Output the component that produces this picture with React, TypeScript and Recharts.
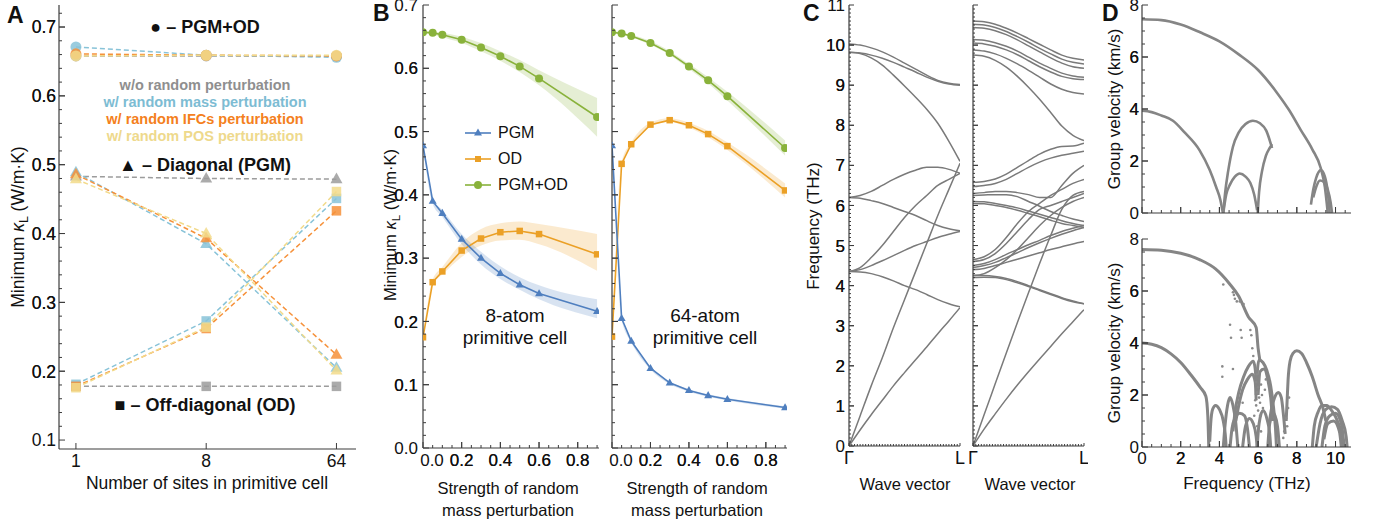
import React from "react";
import { ComposedChart, Line, Area, Scatter, XAxis, YAxis } from "recharts";

const FONT = '"Liberation Sans", Arial, Helvetica, sans-serif';
const AXIS = "#3c3c3c";

// ---------- Panel A: minimum kappa vs number of sites ----------
const siteLabels = ["1", "8", "64"];
const sitePos = [0, 1, 2];
const combNone = [0.658, 0.658, 0.658];
const combMass = [0.671, 0.659, 0.656];
const combIfc = [0.661, 0.659, 0.658];
const combPos = [0.658, 0.659, 0.659];
const diagNone = [0.483, 0.48, 0.479];
const diagMass = [0.489, 0.385, 0.205];
const diagIfc = [0.486, 0.393, 0.224];
const diagPos = [0.479, 0.4, 0.201];
const offNone = [0.178, 0.178, 0.178];
const offMass = [0.181, 0.273, 0.451];
const offIfc = [0.178, 0.262, 0.433];
const offPos = [0.176, 0.264, 0.461];

// ---------- Panel B: minimum kappa vs mass perturbation ----------
const strength = [0, 0.05, 0.1, 0.2, 0.3, 0.4, 0.5, 0.6, 0.9];
const pgm8 = [0.478, 0.39, 0.371, 0.33, 0.3, 0.276, 0.258, 0.244, 0.216];
const pgm8Lo = [0.477, 0.386, 0.365, 0.322, 0.29, 0.267, 0.25, 0.235, 0.205];
const pgm8Hi = [0.479, 0.393, 0.376, 0.338, 0.31, 0.287, 0.27, 0.257, 0.235];
const od8 = [0.175, 0.262, 0.279, 0.312, 0.331, 0.341, 0.343, 0.338, 0.306];
const od8Lo = [0.174, 0.258, 0.274, 0.302, 0.32, 0.328, 0.329, 0.322, 0.28];
const od8Hi = [0.176, 0.266, 0.286, 0.324, 0.346, 0.355, 0.358, 0.354, 0.338];
const both8 = [0.657, 0.656, 0.653, 0.645, 0.633, 0.619, 0.603, 0.584, 0.523];
const both8Lo = [0.655, 0.653, 0.649, 0.64, 0.627, 0.612, 0.594, 0.573, 0.492];
const both8Hi = [0.659, 0.658, 0.656, 0.65, 0.64, 0.627, 0.613, 0.597, 0.553];

const pgm64 = [0.478, 0.205, 0.169, 0.126, 0.103, 0.091, 0.083, 0.077, 0.064];
const pgm64Lo = [0.477, 0.203, 0.167, 0.124, 0.101, 0.089, 0.081, 0.075, 0.062];
const pgm64Hi = [0.479, 0.207, 0.171, 0.128, 0.105, 0.093, 0.085, 0.079, 0.066];
const od64 = [0.176, 0.449, 0.48, 0.511, 0.518, 0.51, 0.496, 0.477, 0.407];
const od64Lo = [0.175, 0.446, 0.477, 0.508, 0.515, 0.506, 0.491, 0.471, 0.396];
const od64Hi = [0.177, 0.452, 0.483, 0.514, 0.521, 0.514, 0.501, 0.483, 0.418];
const both64 = [0.657, 0.655, 0.651, 0.64, 0.624, 0.603, 0.581, 0.556, 0.474];
const both64Lo = [0.655, 0.653, 0.649, 0.637, 0.621, 0.599, 0.576, 0.549, 0.462];
const both64Hi = [0.659, 0.657, 0.653, 0.643, 0.627, 0.607, 0.586, 0.563, 0.486];

// ---------- Panel C: dispersion Γ -> L ----------
const kPath = [0, 0.1, 0.2, 0.3, 0.4, 0.5, 0.6, 0.7, 0.8, 0.9, 1];
const bands8 = [
  [0, 0.4, 0.78, 1.14, 1.5, 1.83, 2.15, 2.47, 2.8, 3.12, 3.45],
  [0, 0.75, 1.5, 2.2, 2.95, 3.65, 4.35, 5.05, 5.75, 6.4, 7.05],
  [4.35, 4.34, 4.3, 4.22, 4.12, 4.0, 3.9, 3.78, 3.65, 3.55, 3.47],
  [4.35, 4.4, 4.5, 4.62, 4.75, 4.88, 5.0, 5.1, 5.2, 5.28, 5.35],
  [4.35, 4.45, 4.7, 5.0, 5.35, 5.7, 6.0, 6.25, 6.5, 6.65, 6.8],
  [6.2, 6.25, 6.35, 6.5, 6.65, 6.78, 6.88, 6.95, 6.95, 6.9, 6.8],
  [6.2, 6.18, 6.12, 6.05, 5.95, 5.85, 5.75, 5.62, 5.5, 5.42, 5.37],
  [9.82, 9.79, 9.68, 9.5, 9.25, 8.98, 8.7, 8.4, 8.05, 7.6, 7.1],
  [10.03, 10.0, 9.93, 9.83, 9.7, 9.55, 9.4, 9.25, 9.12, 9.05, 9.02],
  [9.82, 9.8, 9.75, 9.67, 9.57, 9.45, 9.33, 9.2, 9.1, 9.03, 9.0],
];
const bands64 = [
  [0, 0.42, 0.8, 1.17, 1.52, 1.85, 2.17, 2.48, 2.8, 3.1, 3.4],
  [0, 0.78, 1.55, 2.32, 3.08, 3.82, 4.55, 5.25, 5.9, 6.25, 6.35],
  [4.25, 4.25, 4.23, 4.18, 4.1, 4.0, 3.9, 3.8, 3.7, 3.62, 3.55],
  [4.2, 4.21, 4.2, 4.15, 4.07, 3.98, 3.88, 3.78, 3.68, 3.6, 3.55],
  [4.65, 4.72, 4.9, 5.2, 5.55, 5.85, 6.05, 6.25, 6.4, 6.55, 6.65],
  [4.6, 4.65, 4.8, 5.05, 5.35, 5.65, 5.9, 6.0, 6.1, 6.2, 6.3],
  [4.5, 4.55, 4.65, 4.78, 4.9, 5.02, 5.13, 5.25, 5.35, 5.43, 5.5],
  [4.45, 4.5, 4.58, 4.7, 4.82, 4.95, 5.07, 5.18, 5.28, 5.37, 5.45],
  [4.4, 4.43, 4.5, 4.58, 4.66, 4.74, 4.82, 4.9, 4.97, 5.04, 5.1],
  [4.25, 4.3, 4.45, 4.65, 4.9, 5.2, 5.5, 5.75, 5.95, 6.1, 6.2],
  [6.58, 6.6, 6.66, 6.78, 6.95, 7.12, 7.28, 7.4, 7.47, 7.48, 7.55],
  [6.47, 6.5, 6.55, 6.65, 6.8, 6.95, 7.08, 7.18, 7.25, 7.3, 7.35],
  [6.3, 6.32, 6.35, 6.35, 6.32, 6.27, 6.2, 6.2, 6.5, 6.8, 7.0],
  [6.25, 6.26, 6.27, 6.27, 6.22, 6.1, 5.98, 5.85, 5.75, 5.66, 5.6],
  [6.1, 6.09, 6.05, 6.0, 5.94, 5.86, 5.78, 5.7, 5.62, 5.55, 5.5],
  [6.05, 6.04, 6.0, 5.95, 5.88, 5.8, 5.72, 5.63, 5.55, 5.5, 5.45],
  [10.6, 10.58, 10.52, 10.42, 10.3, 10.16, 10.02, 9.88, 9.75, 9.67, 9.63],
  [10.52, 10.5, 10.44, 10.34, 10.21, 10.07, 9.92, 9.78, 9.65, 9.57, 9.53],
  [10.44, 10.42, 10.36, 10.26, 10.13, 9.98, 9.83, 9.68, 9.55, 9.46, 9.42],
  [10.14, 10.12, 10.06, 9.97, 9.85, 9.7, 9.55, 9.42, 9.3, 9.23, 9.2],
  [10.05, 10.03, 9.97, 9.88, 9.76, 9.61, 9.46, 9.33, 9.22, 9.16, 9.14],
  [9.88, 9.85, 9.78, 9.67, 9.53, 9.37, 9.2, 9.03, 8.9, 8.82, 8.78],
  [9.75, 9.72, 9.62, 9.45, 9.22, 8.95, 8.65, 8.32, 7.98, 7.75, 7.62],
];

// ---------- Panel D: group velocity vs frequency ----------
type Curve = { f: number[]; v: number[] };
const velTop: Curve[] = [
  { f: [0, 1, 2, 3, 4, 5, 6, 7, 7.6, 8.2, 8.8, 9.24, 9.45, 9.6], v: [7.45, 7.42, 7.25, 6.95, 6.6, 6.1, 5.5, 4.6, 3.96, 3.2, 2.45, 1.72, 1.0, 0] },
  { f: [0, 0.5, 1, 1.6, 2.2, 2.97, 3.5, 3.83, 4.05, 4.18], v: [3.93, 3.88, 3.75, 3.55, 3.1, 2.42, 1.65, 1.0, 0.5, 0] },
  { f: [4.2, 4.35, 4.55, 4.8, 5.05, 5.35, 5.6, 5.8, 5.95], v: [0, 0.7, 1.1, 1.4, 1.52, 1.4, 1.15, 0.7, 0.1] },
  { f: [4.2, 4.3, 4.45, 4.7, 5.0, 5.35, 5.73, 6.1, 6.42, 6.72], v: [0, 0.8, 1.6, 2.55, 3.1, 3.42, 3.55, 3.45, 3.17, 2.5] },
  { f: [5.98, 6.05, 6.2, 6.4, 6.6, 6.72], v: [0, 0.8, 1.6, 2.2, 2.5, 2.65] },
  { f: [8.73, 8.85, 9.0, 9.24, 9.45, 9.6, 9.7], v: [0.32, 0.9, 1.35, 1.65, 1.4, 0.8, 0] },
  { f: [8.85, 9.0, 9.2, 9.4, 9.6, 9.75, 9.82], v: [0.6, 1.0, 1.25, 1.2, 0.9, 0.4, 0] },
];
const velBottom: Curve[] = [
  { f: [0, 1, 2, 3, 3.8, 4.5, 5.0, 5.5, 5.9, 6.0, 6.1], v: [7.6, 7.57, 7.45, 7.2, 6.85, 6.3, 5.8, 5.0, 4.6, 3.8, 3.3] },
  { f: [0, 0.5, 1, 1.5, 2, 2.5, 3, 3.3, 3.4, 3.45], v: [4.0, 3.95, 3.82, 3.58, 3.25, 2.8, 2.3, 1.95, 1.2, 0] },
  { f: [3.5, 3.55, 3.65, 3.8, 4.0, 4.2, 4.3, 4.35], v: [0.2, 0.9, 1.45, 1.6, 1.45, 1.0, 0.5, 0] },
  { f: [4.2, 4.3, 4.42, 4.55, 4.7, 4.85, 4.95], v: [0, 0.9, 1.6, 1.9, 1.6, 0.9, 0] },
  { f: [4.55, 4.65, 4.8, 5.05, 5.3, 5.45, 5.55], v: [0, 0.7, 1.1, 1.3, 1.2, 0.7, 0] },
  { f: [4.7, 4.8, 5.0, 5.25, 5.5, 5.75, 5.85, 5.92], v: [0.6, 1.3, 2.1, 2.7, 3.1, 3.3, 3.0, 2.2] },
  { f: [4.85, 5.0, 5.2, 5.45, 5.7, 5.85, 5.9], v: [1.0, 1.6, 2.2, 2.6, 2.8, 2.5, 1.8] },
  { f: [5.9, 5.97, 6.05, 6.25, 6.45, 6.65, 6.8, 6.9, 6.95], v: [2.0, 3.0, 3.35, 3.25, 2.95, 2.35, 1.5, 0.7, 0] },
  { f: [6.0, 6.1, 6.3, 6.5, 6.65, 6.75], v: [2.0, 2.9, 3.0, 2.6, 1.9, 1.0] },
  { f: [6.55, 6.7, 6.85, 7.05, 7.2, 7.3, 7.4], v: [0.8, 1.5, 1.9, 2.1, 1.9, 1.3, 0.5] },
  { f: [5.2, 5.35, 5.55, 5.75, 5.9, 5.95], v: [0, 0.8, 1.1, 0.9, 0.4, 0] },
  { f: [5.95, 6.05, 6.25, 6.45, 6.6, 6.65], v: [0, 0.9, 1.4, 1.1, 0.5, 0] },
  { f: [6.5, 6.6, 6.8, 7.0, 7.1], v: [0, 0.9, 1.3, 0.8, 0] },
  { f: [7.45, 7.5, 7.55, 7.65, 7.8, 8.0, 8.25, 8.5, 8.8, 9.1, 9.35, 9.5], v: [1.0, 1.8, 2.6, 3.3, 3.6, 3.7, 3.6, 3.25, 2.7, 2.0, 1.5, 1.0] },
  { f: [8.8, 8.9, 9.1, 9.3, 9.55, 9.8, 10.1, 10.3, 10.35], v: [0, 0.8, 1.35, 1.6, 1.6, 1.4, 1.0, 0.5, 0] },
  { f: [9.0, 9.2, 9.5, 9.8, 10.1, 10.35, 10.55, 10.6], v: [0, 0.9, 1.45, 1.55, 1.45, 1.0, 0.4, 0] },
  { f: [9.3, 9.45, 9.7, 10.0, 10.3, 10.45], v: [0, 0.8, 1.2, 1.3, 0.9, 0] },
  { f: [9.4, 9.6, 9.9, 10.2, 10.3], v: [0.3, 0.9, 1.0, 0.6, 0] },
];
const dotF = [4.2, 4.7, 4.75, 4.8, 4.9, 5.05, 5.25, 4.55, 4.6, 5.1, 5.15, 4.15, 4.15, 4.7, 5.6, 5.65, 5.7, 5.75, 5.9, 5.95, 5.9, 6.0, 5.95, 6.05, 6.1, 5.85, 5.9, 6.15, 6.2, 6.0, 6.1, 5.8, 7.6, 7.55, 7.45, 7.5, 7.35, 7.3, 5.2, 6.4, 6.35, 6.25, 6.15, 5.95];
const dotV = [6.25, 5.95, 5.85, 5.7, 5.6, 5.6, 5.5, 4.7, 4.2, 4.5, 4.2, 3.1, 2.7, 3.0, 4.5, 4.3, 3.8, 3.5, 3.0, 2.8, 2.5, 2.3, 2.1, 1.9, 1.7, 1.8, 1.6, 2.4, 2.0, 1.4, 1.2, 1.2, 1.9, 1.5, 1.1, 0.8, 0.6, 0.35, 1.7, 2.6, 2.2, 1.5, 0.6, 0.8];

// ---------- helpers ----------
function range(a: number, b: number, step: number) {
  const out: number[] = [];
  for (let v = a; v <= b + 1e-9; v += step) out.push(Math.round(v * 1e6) / 1e6);
  return out;
}

type Box = { left: number; top: number; width: number; height: number; x0: number; x1: number; y0: number; y1: number };
type AxisSpec = {
  dataKey?: string;
  domain: [number, number];
  majors: number[];
  minors?: number[];
  fmt?: (v: number) => string;
  size?: number;
  majorLen?: number;
  minorLen?: number;
  gap?: number;
  firstShift?: number;
};
type Side = "left" | "right" | "top" | "bottom";

function makeTick(side: Side, spec: AxisSpec, labels: boolean) {
  const { majors, fmt, size = 16, majorLen = 6, minorLen = 3, gap = 4, firstShift = 0, domain } = spec;
  return (props: any) => {
    const x = Number(props.x);
    const y = Number(props.y);
    const v = Number(props.payload?.value);
    const isMajor = majors.some((m) => Math.abs(m - v) < 1e-6);
    const len = isMajor ? majorLen : minorLen;
    const label = labels && isMajor && fmt ? fmt(v) : "";
    const shift = Math.abs(v - domain[0]) < 1e-6 ? firstShift : 0;
    let x2 = x;
    let y2 = y;
    if (side === "left") x2 = x + len;
    if (side === "right") x2 = x - len;
    if (side === "top") y2 = y + len;
    if (side === "bottom") y2 = y - len;
    return (
      <g>
        <line x1={x} y1={y} x2={x2} y2={y2} stroke={AXIS} strokeWidth={1} />
        {label && side === "left" && (
          <text x={x - gap} y={y} dy="0.36em" textAnchor="end" fontSize={size} fontFamily={FONT} fill="#111">
            {label}
          </text>
        )}
        {label && side === "bottom" && (
          <text x={x + shift} y={y + gap} dy="0.72em" textAnchor="middle" fontSize={size} fontFamily={FONT} fill="#111">
            {label}
          </text>
        )}
      </g>
    );
  };
}

function chartSize(b: Box) {
  return {
    width: b.width,
    height: b.height,
    margin: { top: b.y0 - b.top, right: b.left + b.width - b.x1, left: 0, bottom: 0 },
  };
}

function frameAxes(b: Box, xs: AxisSpec, ys: AxisSpec, xLabels = true, yLabels = true) {
  const xt = [...xs.majors, ...(xs.minors ?? [])].sort((p, q) => p - q);
  const yt = [...ys.majors, ...(ys.minors ?? [])].sort((p, q) => p - q);
  const axisLine = { stroke: AXIS, strokeWidth: 1.2 };
  return [
    <XAxis key="xb" xAxisId={0} dataKey={xs.dataKey} type="number" domain={xs.domain} ticks={xt} interval={0}
      height={b.top + b.height - b.y1} tick={makeTick("bottom", xs, xLabels)} tickLine={false} tickSize={0} tickMargin={0}
      axisLine={axisLine} allowDataOverflow />,
    <XAxis key="xt" xAxisId="top" orientation="top" type="number" domain={xs.domain} ticks={xt} interval={0}
      height={0} tick={makeTick("top", xs, false)} tickLine={false} tickSize={0} tickMargin={0}
      axisLine={axisLine} allowDataOverflow />,
    <YAxis key="yl" yAxisId={0} dataKey={ys.dataKey} type="number" domain={ys.domain} ticks={yt} interval={0}
      width={b.x0 - b.left} tick={makeTick("left", ys, yLabels)} tickLine={false} tickSize={0} tickMargin={0}
      axisLine={axisLine} allowDataOverflow />,
    <YAxis key="yr" yAxisId="right" orientation="right" type="number" domain={ys.domain} ticks={yt} interval={0}
      width={0} tick={makeTick("right", ys, false)} tickLine={false} tickSize={0} tickMargin={0}
      axisLine={axisLine} allowDataOverflow />,
  ];
}

function marker(shape: "circle" | "tri" | "sq", color: string, size: number, opacity = 1) {
  return (p: any) => {
    const { cx, cy, index } = p;
    const k = `m${index}`;
    if (cx == null || cy == null) return <g key={k} />;
    if (shape === "circle") return <circle key={k} cx={cx} cy={cy} r={size / 2} fill={color} fillOpacity={opacity} />;
    if (shape === "sq")
      return <rect key={k} x={cx - size / 2} y={cy - size / 2} width={size} height={size} fill={color} fillOpacity={opacity} />;
    const h = size * 0.88;
    return (
      <polygon key={k} fill={color} fillOpacity={opacity}
        points={`${cx},${cy - h * 0.62} ${cx + size / 2},${cy + h * 0.38} ${cx - size / 2},${cy + h * 0.38}`} />
    );
  };
}

function Txt(props: { x: number; y: number; size?: number; weight?: number; color?: string; anchor?: "start" | "middle" | "end"; rotate?: boolean; children: React.ReactNode }) {
  const { x, y, size = 16, weight = 400, color = "#111", anchor = "middle", rotate = false, children } = props;
  const tx = rotate ? "-50%" : anchor === "middle" ? "-50%" : anchor === "end" ? "-100%" : "0";
  return (
    <div style={{
      position: "absolute", left: x, top: y, transform: `translate(${tx}, -50%)${rotate ? " rotate(-90deg)" : ""}`,
      fontSize: size, fontWeight: weight, color, whiteSpace: "nowrap", lineHeight: 1, fontFamily: FONT,
    }}>
      {children}
    </div>
  );
}

function Place({ b, children }: { b: Box; children: React.ReactNode }) {
  return <div style={{ position: "absolute", left: b.left, top: b.top, width: b.width, height: b.height }}>{children}</div>;
}

const kappaLabel = (
  <span>Minimum <i>κ</i><sub style={{ fontSize: "0.7em" }}>L</sub> (W/m·K)</span>
);

// ---------- Panel A ----------
const colA = { none: "#9c9c9c", mass: "#88c3d8", ifc: "#f6913a", pos: "#f2da8a" };
const rowsA = sitePos.map((x, i) => ({
  x,
  combNone: combNone[i], combMass: combMass[i], combIfc: combIfc[i], combPos: combPos[i],
  diagNone: diagNone[i], diagMass: diagMass[i], diagIfc: diagIfc[i], diagPos: diagPos[i],
  offNone: offNone[i], offMass: offMass[i], offIfc: offIfc[i], offPos: offPos[i],
}));
const seriesA: { key: string; color: string; shape: "circle" | "tri" | "sq"; size: number }[] = [];
(["None", "Mass", "Ifc", "Pos"] as const).forEach((p) => {
  const color = p === "None" ? colA.none : p === "Mass" ? colA.mass : p === "Ifc" ? colA.ifc : colA.pos;
  seriesA.push({ key: `comb${p}`, color, shape: "circle", size: 11 });
  seriesA.push({ key: `diag${p}`, color, shape: "tri", size: 12 });
  seriesA.push({ key: `off${p}`, color, shape: "sq", size: 9.5 });
});

const boxA: Box = { left: 0, top: 0, width: 362, height: 480, x0: 59, x1: 356, y0: 5, y1: 449 };

function PanelA() {
  return (
    <Place b={boxA}>
      <ComposedChart {...chartSize(boxA)} data={rowsA}>
        {frameAxes(
          boxA,
          { dataKey: "x", domain: [-0.13, 2.15], majors: sitePos, fmt: (v) => siteLabels[Math.round(v)], size: 17.5, gap: 5 },
          { domain: [0.087, 0.732], majors: [0.1, 0.2, 0.3, 0.4, 0.5, 0.6, 0.7], minors: range(0.12, 0.72, 0.02), fmt: (v) => v.toFixed(1), size: 17.5, gap: 3 }
        )}
        {seriesA.map((s) => (
          <Line key={s.key} dataKey={s.key} type="linear" stroke={s.color} strokeWidth={1.5} strokeDasharray="5 3"
            dot={marker(s.shape, s.color, s.size, 0.85)} activeDot={false} isAnimationActive={false} />
        ))}
      </ComposedChart>
    </Place>
  );
}

// ---------- Panel B ----------
const colB = { pgm: "#4f7fbf", od: "#eba026", both: "#89b23b" };
function rowsB(pgm: number[], pgmLo: number[], pgmHi: number[], od: number[], odLo: number[], odHi: number[], both: number[], bothLo: number[], bothHi: number[]) {
  return strength.map((s, i) => ({
    s, pgm: pgm[i], od: od[i], both: both[i],
    pgmBand: [pgmLo[i], pgmHi[i]], odBand: [odLo[i], odHi[i]], bothBand: [bothLo[i], bothHi[i]],
  }));
}
const rowsB8 = rowsB(pgm8, pgm8Lo, pgm8Hi, od8, od8Lo, od8Hi, both8, both8Lo, both8Hi);
const rowsB64 = rowsB(pgm64, pgm64Lo, pgm64Hi, od64, od64Lo, od64Hi, both64, both64Lo, both64Hi);

const boxB1: Box = { left: 380, top: 0, width: 222, height: 480, x0: 423, x1: 599, y0: 5, y1: 448 };
const boxB2: Box = { left: 604, top: 0, width: 190, height: 480, x0: 612, x1: 787, y0: 5, y1: 448 };
const bX: AxisSpec = { dataKey: "s", domain: [0, 0.91], majors: [0, 0.2, 0.4, 0.6, 0.8], minors: range(0.05, 0.9, 0.05), fmt: (v) => v.toFixed(1), size: 17, gap: 6, firstShift: 9 };
const bY: AxisSpec = { domain: [0, 0.7], majors: [0, 0.1, 0.2, 0.3, 0.4, 0.5, 0.6, 0.7], minors: range(0.02, 0.68, 0.02), fmt: (v) => v.toFixed(1), size: 17, gap: 5 };

function BChart({ b, rows, yLabels }: { b: Box; rows: any[]; yLabels: boolean }) {
  return (
    <Place b={b}>
      <ComposedChart {...chartSize(b)} data={rows}>
        {frameAxes(b, bX, bY, true, yLabels)}
        <Area dataKey="bothBand" type="monotone" stroke="none" fill={colB.both} fillOpacity={0.22} isAnimationActive={false} activeDot={false} />
        <Area dataKey="odBand" type="monotone" stroke="none" fill={colB.od} fillOpacity={0.22} isAnimationActive={false} activeDot={false} />
        <Area dataKey="pgmBand" type="monotone" stroke="none" fill={colB.pgm} fillOpacity={0.22} isAnimationActive={false} activeDot={false} />
        <Line dataKey="both" type="linear" stroke={colB.both} strokeWidth={1.6} dot={marker("circle", colB.both, 8)} activeDot={false} isAnimationActive={false} />
        <Line dataKey="od" type="linear" stroke={colB.od} strokeWidth={1.6} dot={marker("sq", colB.od, 6.5)} activeDot={false} isAnimationActive={false} />
        <Line dataKey="pgm" type="linear" stroke={colB.pgm} strokeWidth={1.6} dot={marker("tri", colB.pgm, 8)} activeDot={false} isAnimationActive={false} />
      </ComposedChart>
    </Place>
  );
}

const legendB = [
  { name: "PGM", color: colB.pgm, shape: "tri" as const, y: 133 },
  { name: "OD", color: colB.od, shape: "sq" as const, y: 159 },
  { name: "PGM+OD", color: colB.both, shape: "circle" as const, y: 185 },
];

function LegendB() {
  return (
    <>
      {legendB.map((e) => (
        <div key={e.name}>
          <svg style={{ position: "absolute", left: 463, top: e.y - 6 }} width={30} height={12}>
            <line x1={2} x2={28} y1={6} y2={6} stroke={e.color} strokeWidth={1.6} />
            {e.shape === "circle" && <circle cx={15} cy={6} r={4} fill={e.color} />}
            {e.shape === "sq" && <rect x={12} y={3} width={6} height={6} fill={e.color} />}
            {e.shape === "tri" && <polygon points="15,1.5 19,8.5 11,8.5" fill={e.color} />}
          </svg>
          <Txt x={498} y={e.y} size={16} anchor="start">{e.name}</Txt>
        </div>
      ))}
    </>
  );
}

// ---------- Panel C ----------
function rowsC(bands: number[][]) {
  return kPath.map((k, i) => {
    const r: Record<string, number> = { k };
    bands.forEach((bd, j) => { r[`b${j}`] = bd[i]; });
    return r;
  });
}
const rowsC8 = rowsC(bands8);
const rowsC64 = rowsC(bands64);
const boxC1: Box = { left: 800, top: 0, width: 165, height: 480, x0: 849, x1: 960, y0: 5, y1: 446 };
const boxC2: Box = { left: 966, top: 0, width: 122, height: 480, x0: 973, x1: 1084, y0: 5, y1: 446 };
const cX: AxisSpec = { dataKey: "k", domain: [0, 1], majors: [0, 1], minors: range(0.025, 0.975, 0.025), fmt: (v) => (v < 0.5 ? "Γ" : "L"), size: 18, gap: 5, majorLen: 3, minorLen: 2 };
const cY: AxisSpec = { domain: [0, 11], majors: range(0, 11, 1), minors: range(0.1, 10.9, 0.1), fmt: (v) => String(Math.round(v)), size: 17, gap: 4, majorLen: 5, minorLen: 2 };

function CChart({ b, rows, n, yLabels }: { b: Box; rows: any[]; n: number; yLabels: boolean }) {
  return (
    <Place b={b}>
      <ComposedChart {...chartSize(b)} data={rows}>
        {frameAxes(b, cX, cY, true, yLabels)}
        {Array.from({ length: n }, (_, j) => (
          <Line key={j} dataKey={`b${j}`} type="monotone" stroke="#7a7a7a" strokeWidth={1.5} dot={false} activeDot={false} isAnimationActive={false} />
        ))}
      </ComposedChart>
    </Place>
  );
}

// ---------- Panel D ----------
const boxD1: Box = { left: 1100, top: 0, width: 260, height: 225, x0: 1142, x1: 1351, y0: 5, y1: 213 };
const boxD2: Box = { left: 1100, top: 230, width: 260, height: 250, x0: 1142, x1: 1351, y0: 239, y1: 447 };
const dX: AxisSpec = { dataKey: "f", domain: [0, 10.8], majors: [0, 2, 4, 6, 8, 10], minors: range(0.5, 10.5, 0.5), fmt: (v) => String(v), size: 17, gap: 5 };
const dY: AxisSpec = { dataKey: "v", domain: [0, 8], majors: [0, 2, 4, 6, 8], minors: range(0.5, 7.5, 0.5), fmt: (v) => String(v), size: 17, gap: 3 };
const dots = dotF.map((f, i) => ({ f, v: dotV[i] }));

function DChart({ b, curves, width, xLabels, withDots }: { b: Box; curves: Curve[]; width: number; xLabels: boolean; withDots: boolean }) {
  return (
    <Place b={b}>
      <ComposedChart {...chartSize(b)}>
        {frameAxes(b, dX, dY, xLabels, true)}
        {curves.map((c, j) => (
          <Line key={j} data={c.f.map((f, i) => ({ f, v: c.v[i] }))} dataKey="v" type="monotone" stroke="#858585"
            strokeWidth={width} dot={false} activeDot={false} isAnimationActive={false} />
        ))}
        {withDots && (
          <Scatter data={dots} dataKey="v" fill="#8a8a8a" isAnimationActive={false}
            shape={(p: any) => <circle cx={p.cx} cy={p.cy} r={1.3} fill="#8a8a8a" />} />
        )}
      </ComposedChart>
    </Place>
  );
}

export default function App() {
  return (
    <div style={{ position: "absolute", left: 0, top: 0, width: 1375, height: 525, background: "#fff", overflow: "hidden", fontFamily: FONT, color: "#111" }}>
      <PanelA />
      <BChart b={boxB2} rows={rowsB64} yLabels={false} />
      <BChart b={boxB1} rows={rowsB8} yLabels />
      <CChart b={boxC1} rows={rowsC8} n={bands8.length} yLabels />
      <CChart b={boxC2} rows={rowsC64} n={bands64.length} yLabels={false} />
      <DChart b={boxD1} curves={velTop} width={2.6} xLabels={false} withDots={false} />
      <DChart b={boxD2} curves={velBottom} width={3} xLabels withDots />

      {/* panel letters */}
      <Txt x={7} y={15} size={23} weight={700} anchor="start">A</Txt>
      <Txt x={373} y={13} size={23} weight={700} anchor="start">B</Txt>
      <Txt x={803} y={13} size={23} weight={700} anchor="start">C</Txt>
      <Txt x={1102} y={13} size={23} weight={700} anchor="start">D</Txt>

      {/* panel A text */}
      <Txt x={20} y={227} size={17.5} rotate>{kappaLabel}</Txt>
      <Txt x={207} y={484} size={17.5}>Number of sites in primitive cell</Txt>
      <Txt x={205} y={27} size={18} weight={700}>● – PGM+OD</Txt>
      <Txt x={205} y={85} size={14.5} weight={700} color="#8f8f8f">w/o random perturbation</Txt>
      <Txt x={205} y={102} size={14.5} weight={700} color="#7dbcd3">w/ random mass perturbation</Txt>
      <Txt x={205} y={119} size={14.5} weight={700} color="#f47f20">w/ random IFCs perturbation</Txt>
      <Txt x={205} y={136} size={14.5} weight={700} color="#eed98c">w/ random POS perturbation</Txt>
      <Txt x={205} y={165} size={18} weight={700}>▲ – Diagonal (PGM)</Txt>
      <Txt x={205} y={405} size={18} weight={700}>■ – Off‑diagonal (OD)</Txt>

      {/* panel B text */}
      <Txt x={392} y={225} size={16.5} rotate>{kappaLabel}</Txt>
      <LegendB />
      <Txt x={515} y={315} size={19}>8-atom</Txt>
      <Txt x={515} y={337} size={19}>primitive cell</Txt>
      <Txt x={705} y={315} size={19}>64-atom</Txt>
      <Txt x={705} y={337} size={19}>primitive cell</Txt>
      <Txt x={508} y={488} size={16.5}>Strength of random</Txt>
      <Txt x={508} y={510} size={16.5}>mass perturbation</Txt>
      <Txt x={697} y={488} size={16.5}>Strength of random</Txt>
      <Txt x={697} y={510} size={16.5}>mass perturbation</Txt>

      {/* panel C text */}
      <Txt x={813} y={226} size={17} rotate>Frequency (THz)</Txt>
      <Txt x={905} y={484} size={16.5}>Wave vector</Txt>
      <Txt x={1030} y={484} size={16.5}>Wave vector</Txt>

      {/* panel D text */}
      <Txt x={1114} y={109} size={17} rotate>Group velocity (km/s)</Txt>
      <Txt x={1114} y={343} size={17} rotate>Group velocity (km/s)</Txt>
      <Txt x={1247} y={483} size={17}>Frequency (THz)</Txt>
    </div>
  );
}
